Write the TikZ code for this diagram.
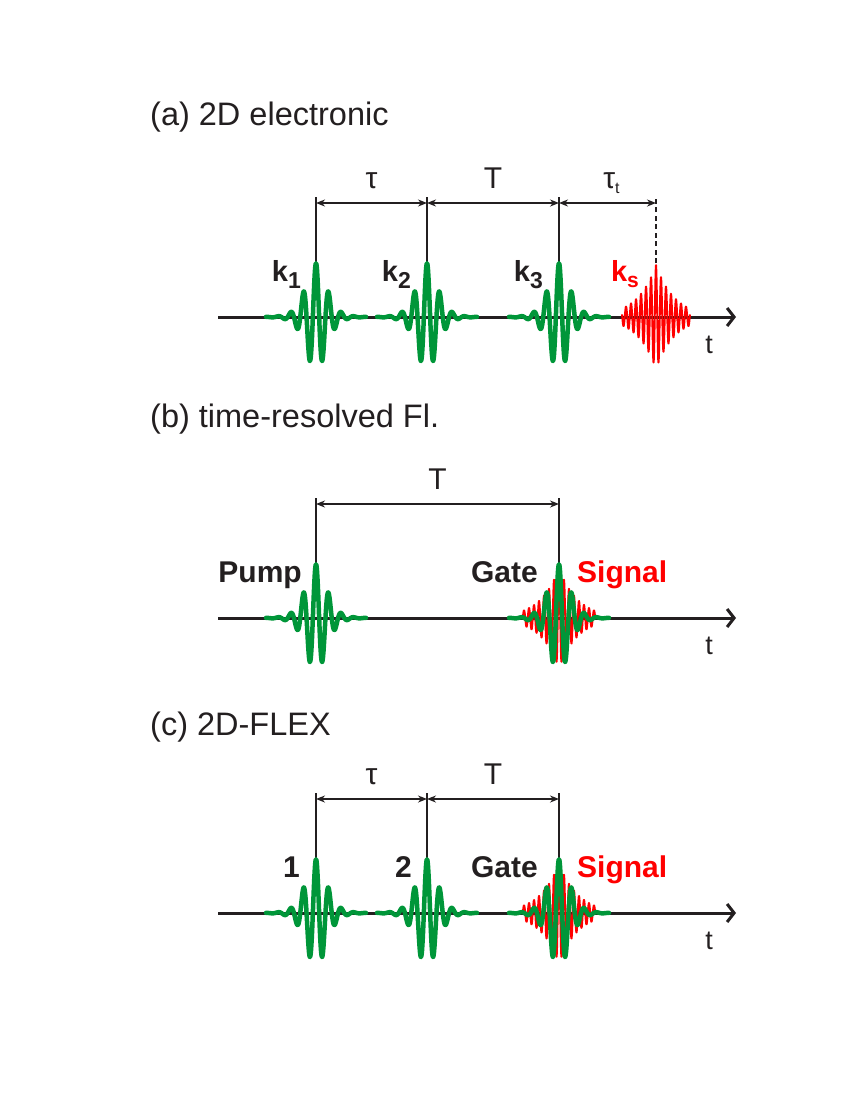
\documentclass[tikz,border=0pt]{standalone}
\usepackage{fontspec}
\setmainfont{Liberation Sans}
\usetikzlibrary{arrows.meta}
\definecolor{pgreen}{RGB}{0,150,57}
\definecolor{ink}{RGB}{35,31,32}

\begin{document}
\begin{tikzpicture}[x=1pt, y=-1pt, >={Stealth[length=9pt,width=7pt]},
    every node/.style={inner sep=0pt, text=ink},
    title/.style={font=\fontsize{32.5}{38}\selectfont, anchor=base west},
    tag/.style={font=\fontsize{30}{34}\selectfont\bfseries, anchor=base east},
    ktag/.style={font=\fontsize{29}{34}\selectfont\bfseries, anchor=base east},
    dimtext/.style={font=\fontsize{30}{36}\selectfont, midway, anchor=base, yshift=15pt},
    tlabel/.style={font=\fontsize{27}{32}\selectfont, anchor=base},
    taxis/.style={draw=ink, line width=3pt, -{Straight Barb[length=7pt,width=18pt]}},
    vline/.style={draw=ink, line width=2pt},
    dimline/.style={draw=ink, line width=1.8pt, <->},
    gpulse/.style={pgreen, line width=4.5pt, line join=round, line cap=round},
    rpulse/.style={red, line width=1.9pt, line join=round}]
    \useasboundingbox (0,0) rectangle (850,1100);

    % (a)
    \node[title] (tita) at (150,125) {(a) 2D electronic};
    \coordinate (a0) at (218,317);
    \coordinate (a9) at (736,317);
    \draw[taxis] (a0) -- (a9);
    \node[tlabel] (ta) at (709,353) {t};
    \foreach \i/\cx in {1/316, 2/427, 3/559, s/656} {
      \coordinate (a\i) at (\cx,263);
      \coordinate (au\i) at (\cx,197);
      \coordinate (ad\i) at (\cx,203);
    }
    \foreach \i in {1,2,3} \draw[vline] (a\i) -- (au\i);
    \draw[vline, dash pattern=on 5pt off 3.5pt] (as) -- (aus);
    \draw[dimline] (ad1) -- (ad2) node[dimtext] {τ};
    \draw[dimline] (ad2) -- (ad3) node[dimtext] {T};
    \draw[dimline] (ad3) -- (ads) node[dimtext, xshift=4pt] {τ\raisebox{-5pt}{\fontsize{16}{16}\selectfont t}};
    \draw[rpulse] plot[variable=\t, domain=-34:34, samples=700]
      ({656+\t},{317-52*exp(-abs(\t)/18.6)*cos(72*\t)});
    \node[ktag] (k1) at (301,281) {k\raisebox{-7pt}{\fontsize{23}{23}\selectfont 1}};
    \node[ktag] (k2) at (411,281) {k\raisebox{-7pt}{\fontsize{23}{23}\selectfont 2}};
    \node[ktag] (k3) at (543,281) {k\raisebox{-7pt}{\fontsize{23}{23}\selectfont 3}};
    \node[ktag, text=red] (ks) at (639,281) {k\raisebox{-6pt}{\fontsize{21}{21}\selectfont s}};

    % (b)
    \node[title] (titb) at (150,427) {(b) time-resolved Fl.};
    \coordinate (b0) at (218,618);
    \coordinate (b9) at (736,618);
    \draw[taxis] (b0) -- (b9);
    \node[tlabel] (tb) at (709,654) {t};
    \foreach \i/\cx in {1/316, 2/559} {
      \coordinate (b\i) at (\cx,564);
      \coordinate (bu\i) at (\cx,498);
      \coordinate (bd\i) at (\cx,504);
      \draw[vline] (b\i) -- (bu\i);
    }
    \draw[dimline] (bd1) -- (bd2) node[dimtext] {T};
    \draw[rpulse] plot[variable=\t, domain=-36:36, samples=700]
      ({559+\t},{618-50*exp(-abs(\t)/18.6)*cos(72*\t)});
    \node[tag] (pump) at (302,582) {Pump};
    \node[tag] (gateb) at (538,582) {Gate};
    \node[tag, anchor=base west, text=red] (sigb) at (577,582) {Signal};

    % (c)
    \node[title] (titc) at (150,735) {(c) 2D-FLEX};
    \coordinate (c0) at (218,913);
    \coordinate (c9) at (736,913);
    \draw[taxis] (c0) -- (c9);
    \node[tlabel] (tc) at (709,949) {t};
    \foreach \i/\cx in {1/316, 2/427, 3/559} {
      \coordinate (c\i) at (\cx,859);
      \coordinate (cu\i) at (\cx,793);
      \coordinate (cd\i) at (\cx,799);
      \draw[vline] (c\i) -- (cu\i);
    }
    \draw[dimline] (cd1) -- (cd2) node[dimtext] {τ};
    \draw[dimline] (cd2) -- (cd3) node[dimtext] {T};
    \draw[rpulse] plot[variable=\t, domain=-36:36, samples=700]
      ({559+\t},{913-50*exp(-abs(\t)/18.6)*cos(72*\t)});
    \node[tag] (one) at (300,877) {1};
    \node[tag] (two) at (412,877) {2};
    \node[tag] (gatec) at (538,877) {Gate};
    \node[tag, anchor=base west, text=red] (sigc) at (577,877) {Signal};

    % green pulses
    \foreach \cx/\cy in {316/317, 427/317, 559/317, 316/618, 559/618, 316/913, 427/913, 559/913}
      \draw[gpulse] plot[variable=\t, domain=-50:50, samples=250]
        ({\cx+\t},{\cy-54*4/(exp(\t/13.5)+exp(-\t/13.5))^2*cos(28.57*\t)});
\end{tikzpicture}
\end{document}
